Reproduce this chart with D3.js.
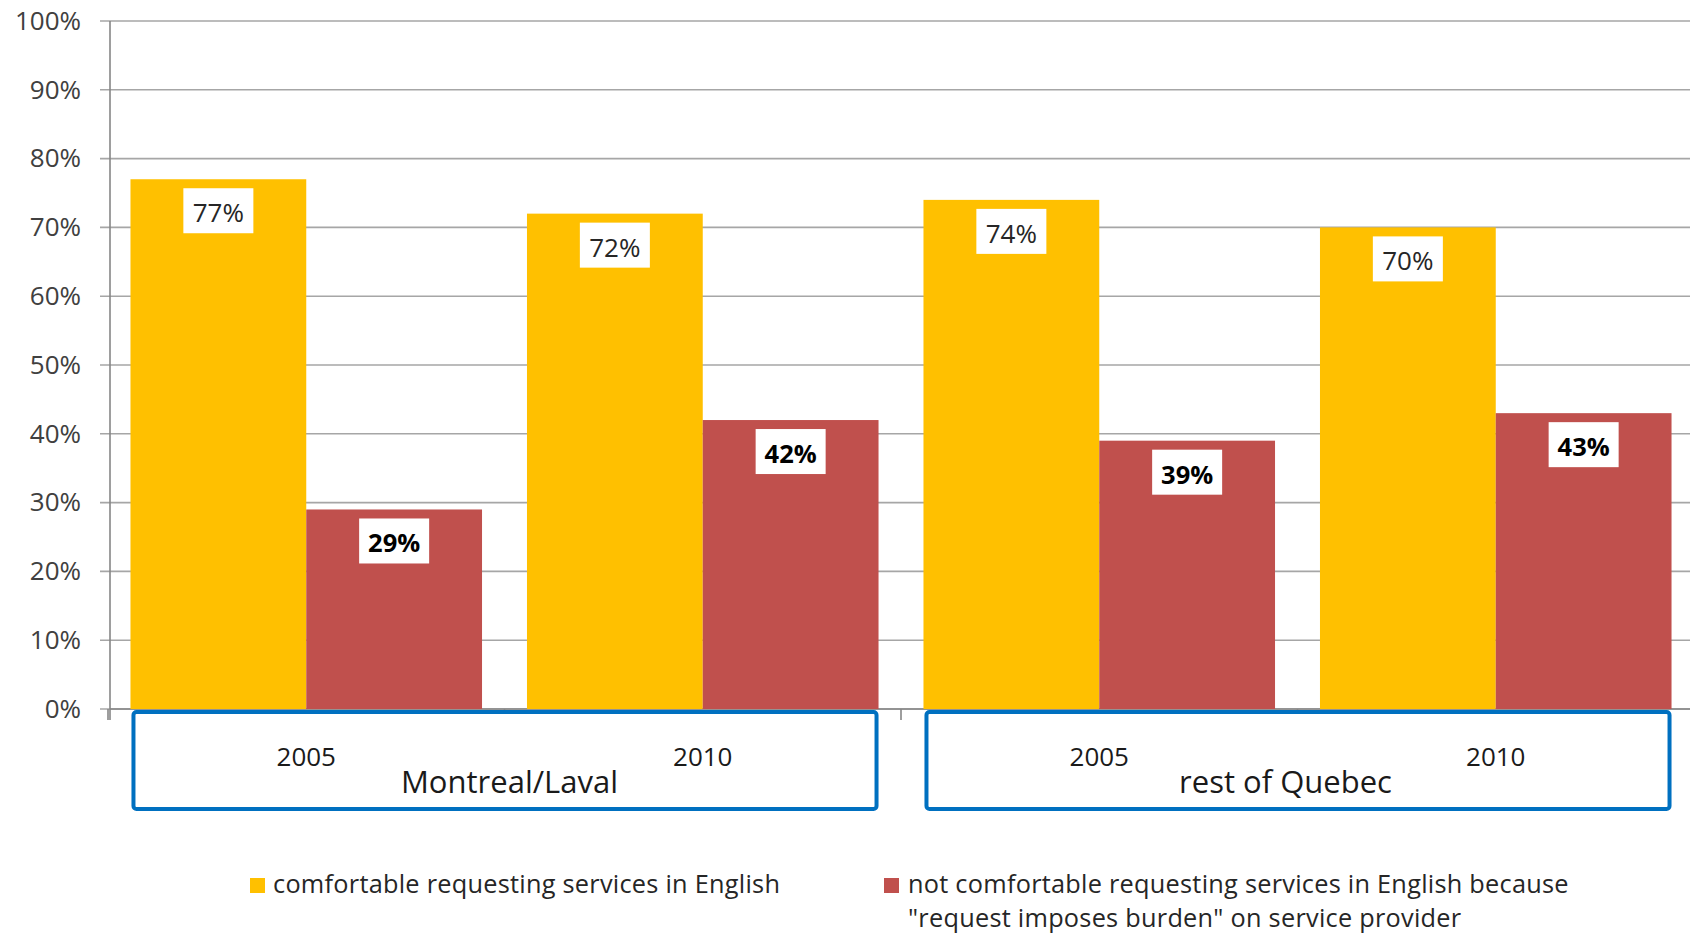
<!DOCTYPE html>
<html>
<head>
<meta charset="utf-8">
<script src="https://cdn.jsdelivr.net/npm/d3@7"></script>
<style>
  html, body { margin: 0; padding: 0; background: #fff; }
  svg { display: block; font-family: "Open Sans", "Noto Sans", sans-serif; }
</style>
</head>
<body>
<svg id="chart" width="1690" height="935"></svg>
<script>
// ---- data ----
const groups = ["Montreal/Laval", "rest of Quebec"];
const years = ["2005", "2010"];
const categories = ["Montreal/Laval 2005", "Montreal/Laval 2010", "rest of Quebec 2005", "rest of Quebec 2010"];
const categoryYears = ["2005", "2010", "2005", "2010"];
const categoryGroups = ["Montreal/Laval", "Montreal/Laval", "rest of Quebec", "rest of Quebec"];
const seriesNames = [
  "comfortable requesting services in English",
  "not comfortable requesting services in English because"
];
const seriesNameLine2 = "\"request imposes burden\" on service provider";
const comfortable = [77, 72, 74, 70];
const notComfortable = [29, 42, 39, 43];
const yTicks = [0, 10, 20, 30, 40, 50, 60, 70, 80, 90, 100];
const seriesColors = ["#FFC000", "#C0504D"];

// ---- layout ----
const svg = d3.select("#chart");
const plot = { left: 110, right: 1694, top: 21, bottom: 709 };
const groupLabelDx = [5, -12];

const x = d3.scaleBand()
  .domain(categories)
  .range([plot.left - 2, plot.right])
  .paddingInner(45 / 397)
  .paddingOuter(45 / 397 / 2);

const xs = d3.scaleBand()
  .domain([0, 1])
  .range([0, x.bandwidth()]);

const y = d3.scaleLinear().domain([0, 100]).range([plot.bottom, plot.top]);

// gridlines
svg.append("g")
  .selectAll("line")
  .data(yTicks)
  .join("line")
  .attr("x1", plot.left - 10)
  .attr("x2", 1690)
  .attr("y1", d => y(d))
  .attr("y2", d => y(d))
  .attr("stroke", "#a6a6a6")
  .attr("stroke-width", 1.6);

// y axis
const yAxis = d3.axisLeft(y)
  .tickValues(yTicks)
  .tickFormat(d => d + "%")
  .tickSize(0)
  .tickPadding(29);
const gy = svg.append("g")
  .attr("transform", `translate(${plot.left},0)`)
  .call(yAxis);
gy.select(".domain").remove();
gy.selectAll("text")
  .attr("font-size", 26)
  .attr("fill", "#404040")
  .attr("font-family", "'Open Sans', sans-serif");

// y axis line
svg.append("line")
  .attr("x1", plot.left).attr("x2", plot.left)
  .attr("y1", plot.top).attr("y2", plot.bottom + 11)
  .attr("stroke", "#868686").attr("stroke-width", 1.6);

// category axis line & tick marks at band boundaries
svg.append("line")
  .attr("x1", plot.left).attr("x2", 1690)
  .attr("y1", plot.bottom).attr("y2", plot.bottom)
  .attr("stroke", "#868686").attr("stroke-width", 1.6);
const step = x.step();
svg.append("g")
  .selectAll("line")
  .data(categories)
  .join("line")
  .attr("x1", d => x(d) - (step - x.bandwidth()) / 2)
  .attr("x2", d => x(d) - (step - x.bandwidth()) / 2)
  .attr("y1", plot.bottom)
  .attr("y2", plot.bottom + 11)
  .attr("stroke", "#868686").attr("stroke-width", 1.6);

// bars
const series = [comfortable, notComfortable];
series.forEach((vals, si) => {
  const g = svg.append("g");
  g.selectAll("rect")
    .data(categories)
    .join("rect")
    .attr("x", d => x(d) + xs(si))
    .attr("y", (d, i) => y(vals[i]))
    .attr("width", xs.bandwidth())
    .attr("height", (d, i) => y(0) - y(vals[i]))
    .attr("fill", seriesColors[si]);

  // data labels
  const lab = g.selectAll("g.lab")
    .data(categories)
    .join("g")
    .attr("class", "lab")
    .attr("transform", (d, i) => `translate(${x(d) + xs(si) + xs.bandwidth() / 2},${y(vals[i]) + 9})`);
  lab.append("rect")
    .attr("x", -35).attr("y", 0)
    .attr("width", 70).attr("height", 45)
    .attr("fill", "#fff");
  lab.append("text")
    .attr("text-anchor", "middle")
    .attr("y", 34)
    .attr("font-size", si === 0 ? 26 : 25.5)
    .attr("font-weight", si === 0 ? "normal" : "bold")
    .attr("fill", si === 0 ? "#262626" : "#000")
    .text((d, i) => vals[i] + "%");
});

// group boxes (blue outlines)
groups.forEach((gname, gi) => {
  const cats = categories.filter((c, i) => categoryGroups[i] === gname);
  const x0 = x(cats[0]) + 3;
  const x1 = x(cats[cats.length - 1]) + x.bandwidth() - 2;
  svg.append("rect")
    .attr("x", x0).attr("y", plot.bottom + 3)
    .attr("width", x1 - x0).attr("height", 97)
    .attr("rx", 3)
    .attr("fill", "#fff")
    .attr("stroke", "#0070C0")
    .attr("stroke-width", 4);
  svg.append("text")
    .attr("x", (x(cats[0]) + x(cats[cats.length - 1]) + x.bandwidth()) / 2 + groupLabelDx[gi])
    .attr("y", 793)
    .attr("text-anchor", "middle")
    .attr("font-size", 31)
    .attr("fill", "#1a1a1a")
    .text(gname);
});

// year labels
svg.append("g")
  .selectAll("text")
  .data(categories)
  .join("text")
  .attr("x", d => x(d) + x.bandwidth() / 2)
  .attr("y", 766)
  .attr("text-anchor", "middle")
  .attr("font-size", 26)
  .attr("fill", "#1a1a1a")
  .text((d, i) => categoryYears[i]);

// legend
const legFont = 25.3;
const legSpacing = 0.26;
const legend = svg.append("g").attr("letter-spacing", legSpacing);
legend.append("rect").attr("x", 250).attr("y", 878).attr("width", 15).attr("height", 15).attr("fill", seriesColors[0]);
legend.append("text").attr("x", 273).attr("y", 892.5).attr("font-size", legFont).attr("fill", "#262626").text(seriesNames[0]);
legend.append("rect").attr("x", 884).attr("y", 878).attr("width", 15).attr("height", 15).attr("fill", seriesColors[1]);
legend.append("text").attr("x", 908).attr("y", 892.5).attr("font-size", legFont).attr("fill", "#262626").text(seriesNames[1]);
legend.append("text").attr("x", 908).attr("y", 927).attr("font-size", legFont).attr("fill", "#262626").text(seriesNameLine2);
</script>
</body>
</html>
